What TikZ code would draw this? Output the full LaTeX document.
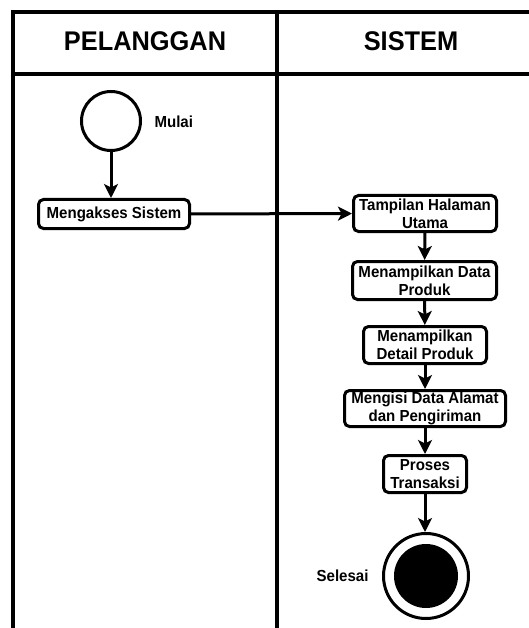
\documentclass[tikz,border=0pt]{standalone}
\usepackage{fontspec}
\setmainfont{Liberation Sans}[FakeStretch=0.94]
\usetikzlibrary{arrows.meta}
\begin{document}
\begin{tikzpicture}[x=1pt,y=-1pt,
  box/.style={draw,line width=3pt,rounded corners=5pt,align=center,font=\bfseries\fontsize{16}{18}\selectfont,inner sep=0pt},
  flow/.style={line width=3pt,-{Stealth[length=14pt,width=14pt,inset=3.5pt]}},
  lane/.style={line width=4pt},
  hdr/.style={font=\bfseries\fontsize{27}{30}\selectfont},
  lbl/.style={font=\bfseries\fontsize{16}{18}\selectfont}]
\useasboundingbox (0,0) rectangle (529,628);
\clip (0,0) rectangle (529,628);
\draw[lane] (12.5,640) -- (12.5,12) -- (560,12);
\draw[lane] (12.5,74) -- (560,74);
\draw[lane] (277,12) -- (277,640);
\node[hdr] (h1) at (145,41) {PELANGGAN};
\node[hdr] (h2) at (411,41) {SISTEM};
\node[circle,draw,line width=3pt,minimum size=59pt,inner sep=0pt] (start) at (111,121) {};
\node[lbl,anchor=west] (mulai) at (151,122) {Mulai};
\node[box,minimum width=151pt,minimum height=29pt] (m1) at (114,214) {Mengakses Sistem};
\node[box,minimum width=143pt,minimum height=36pt] (s1) at (425,213.5) {Tampilan Halaman\\Utama};
\node[box,minimum width=144pt,minimum height=38pt] (s2) at (424.5,280.5) {Menampilkan Data\\Produk};
\node[box,minimum width=123pt,minimum height=37pt] (s3) at (425,345) {Menampilkan\\Detail Produk};
\node[box,minimum width=161pt,minimum height=36pt] (s4) at (425,408.5) {Mengisi Data Alamat\\dan Pengiriman};
\node[box,minimum width=83pt,minimum height=37pt] (s5) at (425,474) {Proses\\Transaksi};
\node[circle,draw,line width=3pt,minimum size=85pt,inner sep=0pt] (end) at (426,576) {};
\node[circle,fill=black,minimum size=64pt,inner sep=0pt] (endin) at (end.center) {};
\node[lbl,anchor=east] (selesai) at (372,576) {Selesai};
\draw[flow] (start) -- (start |- m1.north);
\draw[flow] (m1) -- (s1);
\draw[flow] (s1) -- (s2);
\draw[flow] (s2) -- (s3);
\draw[flow] (s3) -- (s4);
\draw[flow] (s4) -- (s5);
\draw[flow] (s5) -- (s5 |- end.north);
\end{tikzpicture}
\end{document}
